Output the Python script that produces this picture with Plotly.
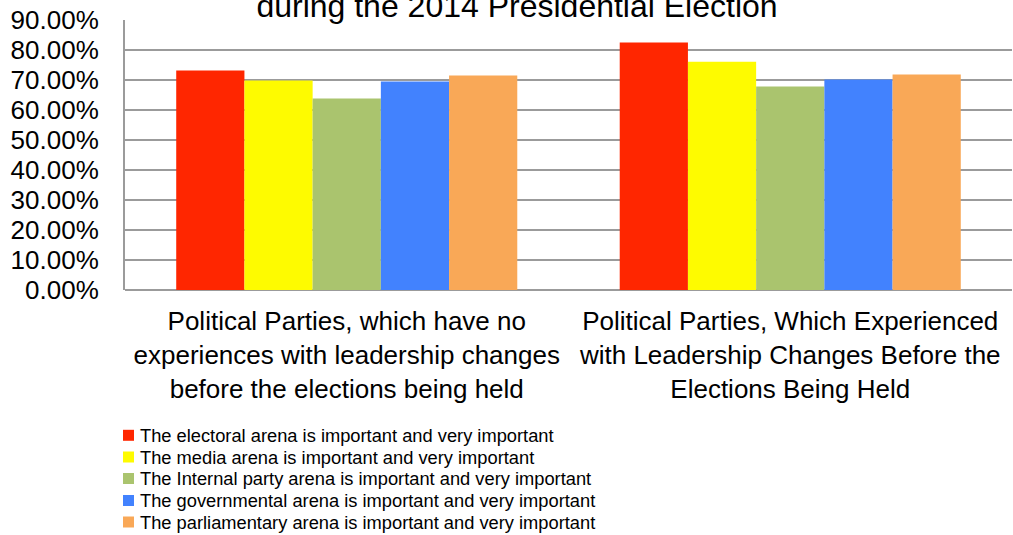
import plotly.graph_objects as go

# Share of parties rating each arena as important / very important
categories = [
    "Political Parties, which have no<br>experiences with leadership changes<br>before the elections being held",
    "Political Parties, Which Experienced<br>with Leadership Changes Before the<br>Elections Being Held",
]
series_names = [
    "The electoral arena is important and very important",
    "The media arena is important and very important",
    "The Internal party arena is important and very important",
    "The governmental arena is important and very important",
    "The parliamentary arena is important and very important",
]
electoral = [73.2, 82.5]
media = [69.8, 76.1]
internal_party = [63.8, 67.8]
governmental = [69.5, 70.2]
parliamentary = [71.5, 71.8]
series_values = [electoral, media, internal_party, governmental, parliamentary]
series_colors = ["#FF2600", "#FEFB00", "#AAC46E", "#4282FE", "#F9A857"]

y_ticks = [0, 10, 20, 30, 40, 50, 60, 70, 80, 90]
y_tick_labels = [f"{v:.2f}%" for v in y_ticks]

W, H = 1013, 535
ML, MR, MT, MB = 125, 1, 20, 245
PW, PH = W - ML - MR, H - MT - MB
FONT = "Liberation Sans, Arial, sans-serif"


def px_x(x):
    return (x - ML) / PW


def px_y(y):
    return (H - MB - y) / PH


fig = go.Figure()
for name, vals, color in zip(series_names, series_values, series_colors):
    fig.add_trace(go.Bar(
        x=categories, y=vals, name=name,
        marker=dict(color=color, line=dict(width=0)),
        showlegend=False,
    ))

# Legend drawn as colour squares with text beside them
legend_rows = [435.3, 457, 478.5, 500.5, 522]
shapes = []
annotations = []
for name, color, cy in zip(series_names, series_colors, legend_rows):
    shapes.append(dict(
        type="rect", xref="paper", yref="paper",
        x0=px_x(123), x1=px_x(134), y0=px_y(cy + 5.5), y1=px_y(cy - 5.5),
        fillcolor=color, line=dict(width=0), layer="above",
    ))
    annotations.append(dict(
        text=name, xref="paper", yref="paper",
        x=px_x(138), y=px_y(cy), xanchor="left", yanchor="middle",
        showarrow=False, font=dict(family=FONT, size=18.3, color="#000000"),
    ))

fig.update_layout(
    width=W, height=H,
    margin=dict(l=ML, r=MR, t=MT, b=MB, pad=0),
    paper_bgcolor="#FFFFFF", plot_bgcolor="#FFFFFF",
    barmode="group", bargap=0.231, bargroupgap=0,
    font=dict(family=FONT, color="#000000"),
    title=dict(
        text="during the 2014 Presidential Election",
        font=dict(family=FONT, size=32, color="#000000"),
        xref="container", x=517 / W, xanchor="center",
        yref="container", y=1 - 6 / H, yanchor="middle",
    ),
    shapes=shapes,
    annotations=annotations,
)
fig.update_xaxes(
    showgrid=False, showline=False, ticks="",
    tickfont=dict(family=FONT, size=26, color="#000000"),
    ticklabelstandoff=13,
)
fig.update_yaxes(
    range=[0, 90], tickvals=y_ticks, ticktext=y_tick_labels,
    showgrid=True, gridcolor="#9B9B9B", gridwidth=1.5,
    showline=True, linecolor="#9B9B9B", linewidth=2,
    zeroline=True, zerolinecolor="#9B9B9B", zerolinewidth=2,
    ticks="", tickfont=dict(family=FONT, size=26, color="#000000"),
    ticklabelstandoff=19,
)

fig.write_html("out.html")
